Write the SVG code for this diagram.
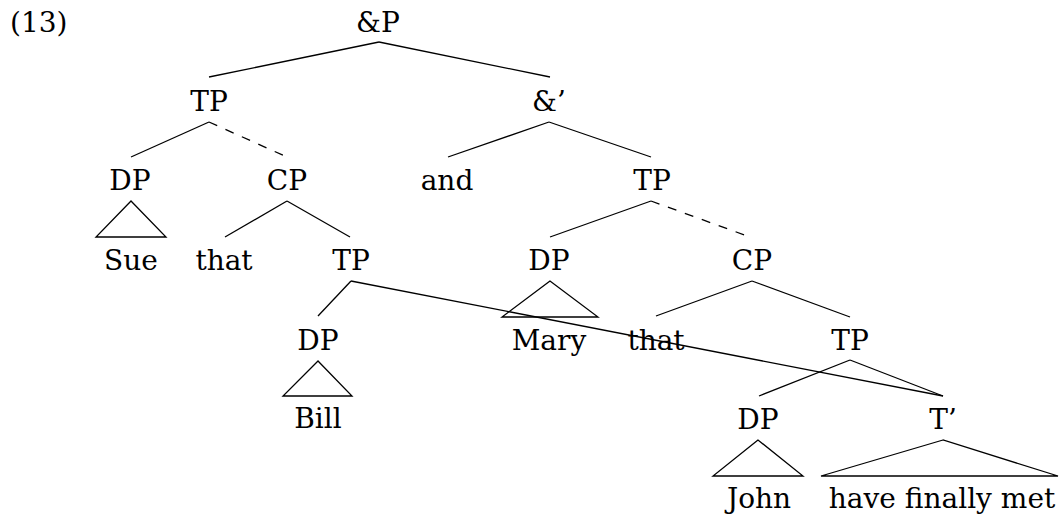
<svg xmlns="http://www.w3.org/2000/svg" width="1059" height="516" viewBox="0 0 1059 516">
  <style>
    text { font-family: "DejaVu Serif"; font-size: 28px; fill: #000; text-anchor: middle; }
    .ex { text-anchor: start; }
    .edge { stroke: #000; stroke-width: 1.3; fill: none; stroke-linecap: butt; }
    .dash { stroke-dasharray: 9 9; }
    .roof { stroke: #000; stroke-width: 1.3; fill: none; stroke-linejoin: miter; }
  </style>
  <rect width="1059" height="516" fill="#fff"/>

  <!-- example number -->
  <text class="ex" x="10" y="32">(13)</text>

  <!-- tree branches -->
  <g id="connectors">
    <!-- &P -->
    <line class="edge" x1="379" y1="42" x2="209" y2="77"/>
    <line class="edge" x1="379" y1="42" x2="550" y2="77"/>
    <!-- TP (left) -->
    <line class="edge" x1="209" y1="122" x2="131" y2="157"/>
    <line class="edge dash" x1="209" y1="122" x2="287" y2="157"/>
    <!-- &' -->
    <line class="edge" x1="549" y1="122" x2="448" y2="157"/>
    <line class="edge" x1="549" y1="122" x2="651" y2="157"/>
    <!-- CP (left) -->
    <line class="edge" x1="287" y1="201" x2="225" y2="237"/>
    <line class="edge" x1="287" y1="201" x2="350" y2="237"/>
    <!-- TP (right) -->
    <line class="edge" x1="651" y1="201" x2="550" y2="237"/>
    <line class="edge dash" x1="651" y1="201" x2="750" y2="237"/>
    <!-- TP under left CP -->
    <line class="edge" x1="351" y1="281" x2="318" y2="316"/>
    <line class="edge" x1="351" y1="281" x2="943" y2="396"/>
    <!-- CP (right) -->
    <line class="edge" x1="752" y1="281" x2="656" y2="316"/>
    <line class="edge" x1="752" y1="281" x2="850" y2="317"/>
    <!-- TP under right CP -->
    <line class="edge" x1="850" y1="360" x2="759" y2="396"/>
    <line class="edge" x1="850" y1="360" x2="943" y2="396"/>
    <!-- roofs -->
    <polygon class="roof" points="131,201 96,237 166,237"/>
    <polygon class="roof" points="550,281 502,317 598,317"/>
    <polygon class="roof" points="318,361 283,396 352,396"/>
    <polygon class="roof" points="758,440 713,476 803,476"/>
    <polygon class="roof" points="943,440 821,476 1058,476"/>
  </g>

  <g id="n-andP"><text x="378" y="32">&amp;P</text></g>
  <g id="n-TP1"><text x="209" y="111">TP</text></g>
  <g id="n-andbar"><text x="549" y="111">&amp;’</text></g>
  <g id="n-DP1"><text x="130" y="190">DP</text></g>
  <g id="n-CP1"><text x="287" y="190">CP</text></g>
  <g id="n-and"><text x="447" y="190">and</text></g>
  <g id="n-TP2"><text x="652" y="190">TP</text></g>
  <g id="n-Sue"><text x="131" y="270">Sue</text></g>
  <g id="n-that1"><text x="224" y="270">that</text></g>
  <g id="n-TP3"><text x="351" y="270">TP</text></g>
  <g id="n-DP2"><text x="549" y="270">DP</text></g>
  <g id="n-CP2"><text x="752" y="270">CP</text></g>
  <g id="n-DP3"><text x="318" y="350">DP</text></g>
  <g id="n-Mary"><text x="549" y="350">Mary</text></g>
  <g id="n-that2"><text x="656" y="350">that</text></g>
  <g id="n-TP4"><text x="850" y="350">TP</text></g>
  <g id="n-Bill"><text x="318" y="428">Bill</text></g>
  <g id="n-DP4"><text x="758" y="429">DP</text></g>
  <g id="n-Tbar"><text x="943" y="429">T’</text></g>
  <g id="n-John"><text x="759" y="508">John</text></g>
  <g id="n-met"><text x="942" y="508">have finally met</text></g>
</svg>
